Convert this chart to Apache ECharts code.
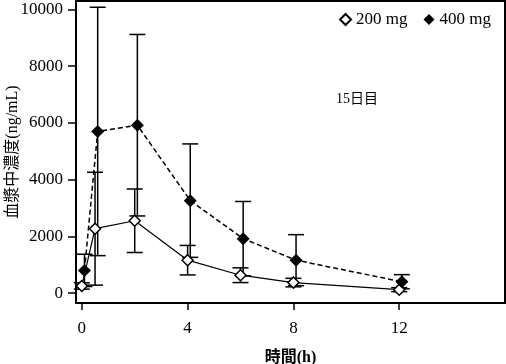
<!DOCTYPE html>
<html>
<head>
<meta charset="utf-8">
<script src="https://cdn.jsdelivr.net/npm/echarts@6/dist/echarts.min.js"></script>
<style>
html,body{margin:0;padding:0;background:#fff;}
#chart{width:506px;height:364px;}
</style>
</head>
<body>
<div id="chart"></div>
<script>
// ---- data ----
var seriesNames = ['200 mg', '400 mg'];
var times200 = [0, 0.5, 2, 4, 6, 8, 12];
var times400 = [0.1, 0.6, 2.1, 4.1, 6.1, 8.1, 12.1];
var mean200 = [250, 2270, 2550, 1160, 630, 370, 120];
var sd200   = [110, 1990, 1120, 520, 260, 150, 70];
var mean400 = [800, 5700, 5920, 3260, 1920, 1160, 400];
var sd400   = [570, 4380, 3200, 2000, 1310, 900, 250];
var xTicks = [0, 4, 8, 12];
var yTicks = [0, 2000, 4000, 6000, 8000, 10000];
var xTitle = '時間(h)';
var yTitle = '血漿中濃度(ng/mL)';
var note = '15日目';

var serif = '"Liberation Serif", "DejaVu Serif", "Noto Sans CJK JP", serif';
var cjk = '"Liberation Serif", "Noto Sans CJK JP", serif';

function pairs(xs, ys) { return xs.map(function (x, i) { return [x, ys[i]]; }); }
function errData(xs, m, s) { return xs.map(function (x, i) { return [x, m[i] - s[i], m[i] + s[i]]; }); }

function errRender(params, api) {
  var x = api.value(0);
  var lo = api.coord([x, api.value(1)]);
  var hi = api.coord([x, api.value(2)]);
  var hw = 8;
  var st = { stroke: '#000', lineWidth: 1.5 };
  return {
    type: 'group',
    children: [
      { type: 'line', shape: { x1: lo[0], y1: lo[1], x2: hi[0], y2: hi[1] }, style: st },
      { type: 'line', shape: { x1: hi[0] - hw, y1: hi[1], x2: hi[0] + hw, y2: hi[1] }, style: st },
      { type: 'line', shape: { x1: lo[0] - hw, y1: lo[1], x2: lo[0] + hw, y2: lo[1] }, style: st }
    ]
  };
}

var chart = echarts.init(document.getElementById('chart'), null, { renderer: 'canvas' });
chart.setOption({
  animation: false,
  backgroundColor: '#fff',
  grid: { left: 76, right: 1, top: 1, bottom: 61, containLabel: false, outerBoundsMode: 'none', show: true, borderColor: '#000', borderWidth: 2, backgroundColor: 'transparent' },
  legend: {
    right: 10, top: 6,
    itemWidth: 11, itemHeight: 11, itemGap: 16,
    icon: 'diamond',
    textStyle: { fontFamily: serif, fontSize: 17, color: '#000', padding: [0, 0, 0, 0] },
    data: seriesNames
  },
  xAxis: {
    type: 'value', min: -0.22, max: 16,
    axisLine: { show: true, onZero: false, lineStyle: { color: '#000', width: 2 } },
    axisTick: { show: true, length: 7, lineStyle: { color: '#000', width: 1.5 }, customValues: xTicks },
    axisLabel: { customValues: xTicks, color: '#000', fontFamily: serif, fontSize: 17, margin: 17, formatter: function (v) { return String(v); } },
    splitLine: { show: false },
    name: xTitle, nameLocation: 'middle', nameGap: 47, nameMoveOverlap: false,
    nameTextStyle: { fontFamily: cjk, fontSize: 16, fontWeight: 'bold', color: '#000' }
  },
  yAxis: {
    type: 'value', min: -350, max: 10300,
    axisLine: { show: true, onZero: false, lineStyle: { color: '#000', width: 2 } },
    axisTick: { show: true, length: 8, lineStyle: { color: '#000', width: 1.5 }, customValues: yTicks },
    axisLabel: { customValues: yTicks, color: '#000', fontFamily: serif, fontSize: 17, margin: 13, formatter: function (v) { return String(v); } },
    splitLine: { show: false },
    name: yTitle, nameLocation: 'middle', nameGap: 55, nameMoveOverlap: false,
    nameTextStyle: { fontFamily: cjk, fontSize: 16, color: '#000' }
  },
  graphic: [{
    type: 'text', left: 336, top: 92,
    style: { text: note, font: '14px ' + cjk, fill: '#000' }
  }],
  series: [
    {
      name: '200 mg', type: 'line', data: pairs(times200, mean200),
      symbol: 'diamond', symbolSize: 11, showSymbol: true,
      lineStyle: { color: '#000', width: 1.2, type: 'solid' },
      itemStyle: { color: '#fff', borderColor: '#000', borderWidth: 1.5 },
      z: 3
    },
    {
      name: '400 mg', type: 'line', data: pairs(times400, mean400),
      symbol: 'diamond', symbolSize: 13, showSymbol: true,
      lineStyle: { color: '#000', width: 1.5, type: [5, 3] },
      itemStyle: { color: '#000', borderColor: '#000', borderWidth: 0 },
      z: 3
    },
    { name: '200 mg err', type: 'custom', renderItem: errRender, data: errData(times200, mean200, sd200), encode: { x: 0, y: [1, 2] }, z: 2 },
    { name: '400 mg err', type: 'custom', renderItem: errRender, data: errData(times400, mean400, sd400), encode: { x: 0, y: [1, 2] }, z: 2 }
  ]
});
</script>
</body>
</html>
